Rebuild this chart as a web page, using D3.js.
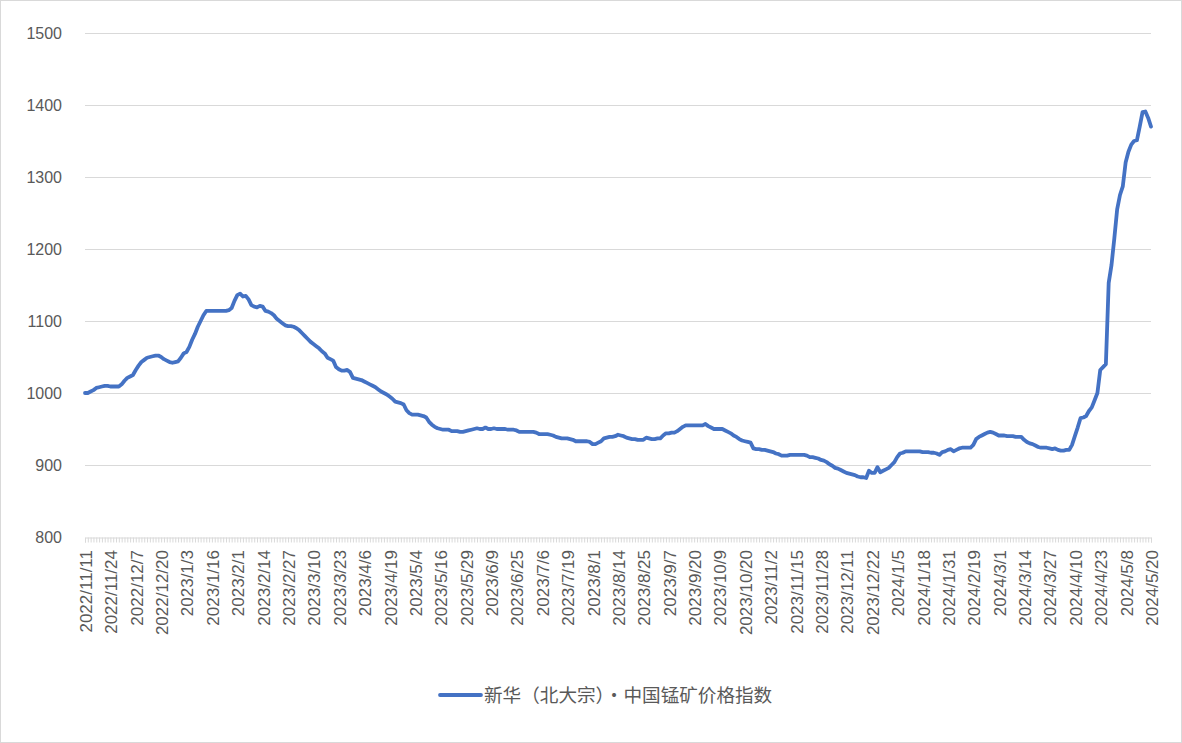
<!DOCTYPE html>
<html><head><meta charset="utf-8">
<script src="https://cdn.jsdelivr.net/npm/d3@7"></script>
<style>body{margin:0;background:#fff;}svg{display:block;}</style>
</head><body>
<svg id="c" width="1182" height="743"></svg>
<script>
// Tick labels (one every 9 trading days)
const tickLabels = ["2022/11/11","2022/11/24","2022/12/7","2022/12/20","2023/1/3","2023/1/16","2023/2/1","2023/2/14","2023/2/27","2023/3/10","2023/3/23","2023/4/6","2023/4/19","2023/5/4","2023/5/16","2023/5/29","2023/6/9","2023/6/25","2023/7/6","2023/7/19","2023/8/1","2023/8/14","2023/8/25","2023/9/7","2023/9/20","2023/10/9","2023/10/20","2023/11/2","2023/11/15","2023/11/28","2023/12/11","2023/12/22","2024/1/5","2024/1/18","2024/1/31","2024/2/19","2024/3/1","2024/3/14","2024/3/27","2024/4/10","2024/4/23","2024/5/8","2024/5/20"];
const labelStep = 9;
const seriesName = "新华（北大宗）·中国锰矿价格指数";
const yTicks = [800,900,1000,1100,1200,1300,1400,1500];
// Daily index values (trading days)
const values = [
1000,1000,1002,1004,1007,1008,1009,1010,1010,1009,
1009,1009,1009,1012,1017,1021,1023,1025,1032,1038,
1043,1046,1049,1050,1051,1052,1052,1050,1047,1045,
1043,1042,1043,1044,1049,1055,1057,1064,1074,1082,
1092,1100,1108,1114,1114,1114,1114,1114,1114,1114,
1114,1115,1118,1128,1136,1138,1134,1135,1130,1122,
1120,1119,1121,1120,1114,1113,1111,1108,1103,1100,
1097,1094,1093,1093,1092,1090,1087,1083,1079,1075,
1071,1068,1065,1062,1058,1055,1049,1047,1045,1036,
1033,1031,1031,1032,1029,1021,1020,1019,1018,1016,
1014,1012,1010,1008,1005,1002,1000,998,995,992,
988,987,986,984,976,972,970,970,970,969,
968,966,960,956,953,951,950,949,949,949,
947,947,947,946,946,947,948,949,950,951,
950,950,952,950,950,951,950,950,950,950,
949,949,949,948,946,946,946,946,946,946,
945,943,943,943,943,942,941,939,938,937,
937,937,936,935,933,933,933,933,933,932,
929,929,931,933,937,938,939,939,940,942,
941,940,938,937,936,936,935,935,935,938,
937,936,936,937,937,941,944,944,945,945,
947,950,953,955,955,955,955,955,955,955,
957,954,952,950,950,950,950,948,946,944,
941,939,936,934,933,932,931,923,922,922,
921,921,920,919,918,916,915,913,913,913,
914,914,914,914,914,914,913,911,911,910,
909,907,906,904,901,899,896,895,893,891,
889,888,887,886,884,883,883,882,892,889,
889,897,890,892,894,896,900,904,911,916,
917,919,919,919,919,919,919,918,918,918,
917,917,916,914,918,919,921,922,919,921,
923,924,924,924,924,928,936,939,941,943,
945,946,945,943,941,941,941,940,940,940,
939,939,939,935,932,930,929,927,925,924,
924,924,923,922,923,921,920,920,921,921,
928,940,952,965,966,968,975,980,990,1000,
1032,1036,1040,1153,1178,1215,1255,1275,1287,1320,
1335,1345,1350,1351,1370,1390,1391,1382,1370
];

const svg = d3.select("#c");
const W = 1182, H = 743;
const plotLeft = 85, plotRight = 1151, plotTop = 33, plotBottom = 537;
const nMax = (tickLabels.length - 1) * labelStep;
const x = d3.scaleLinear().domain([0, nMax]).range([plotLeft, plotRight]);
const y = d3.scaleLinear().domain([800, 1500]).range([plotBottom, plotTop]);
const textColor = "#595959";
const font = "'Liberation Sans', Arial, sans-serif";

svg.append("rect").attr("x",0.5).attr("y",0.5).attr("width",W-1).attr("height",H-1)
  .attr("fill","#fff").attr("stroke","#d9d9d9");

// grid
svg.append("g").selectAll("line").data(yTicks.filter(d=>d>800)).join("line")
  .attr("x1", plotLeft).attr("x2", plotRight)
  .attr("y1", d=>Math.round(y(d))+0.5).attr("y2", d=>Math.round(y(d))+0.5)
  .attr("stroke","#d9d9d9").attr("stroke-width",1);

// y labels
svg.append("g").selectAll("text").data(yTicks).join("text")
  .attr("x", 62).attr("y", d=>y(d)).attr("dy","0.35em")
  .attr("text-anchor","end").attr("fill",textColor)
  .style("font-family",font).style("font-size","16px")
  .text(d=>d);

// x axis line with ticks at every category
const xAxis = d3.axisBottom(x).tickValues(d3.range(0, nMax+1)).tickSize(5).tickFormat("");
const gx = svg.append("g").attr("transform",`translate(0,${Math.round(plotBottom)+0.5})`).call(xAxis);
gx.select(".domain").attr("stroke","#d9d9d9");
gx.selectAll(".tick line").attr("stroke","#d9d9d9");

// x labels
svg.append("g").selectAll("text").data(tickLabels).join("text")
  .attr("transform",(d,i)=>`translate(${x(i*labelStep)+1},550) rotate(-90)`)
  .attr("text-anchor","end").attr("dy","0.35em")
  .attr("fill",textColor).style("font-family",font).style("font-size","17px")
  .text(d=>d);

// line
const line = d3.line().x((d,i)=>x(i)).y(d=>y(d));
svg.append("path").datum(values).attr("d",line)
  .attr("fill","none").attr("stroke","#4472C4").attr("stroke-width",3.8)
  .attr("stroke-linejoin","round").attr("stroke-linecap","round");

// legend
svg.append("line").attr("x1",440).attr("x2",481).attr("y1",695).attr("y2",695)
  .attr("stroke","#4472C4").attr("stroke-width",3.8).attr("stroke-linecap","round");
svg.append("text").attr("x",484).attr("y",695).attr("dy","0.35em")
  .attr("fill",textColor).style("font-family","'Noto Sans CJK SC', sans-serif").style("font-size","18.6px")
  .text(seriesName);
</script>
</body></html>
